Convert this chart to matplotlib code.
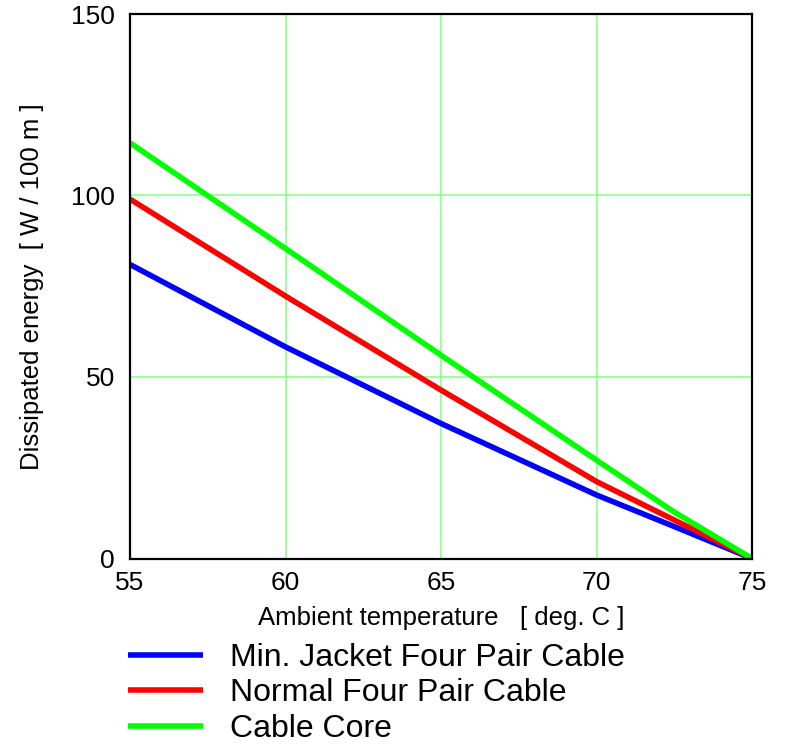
import matplotlib
matplotlib.use("Agg")
import matplotlib.pyplot as plt

temps = [55, 60, 65, 70, 72.5, 75]
min_jacket = [81.0, 58.3, 37.2, 17.5, 8.8, 0.0]
normal_cable = [99.0, 72.3, 46.4, 21.2, 10.6, 0.0]
cable_core = [114.5, 85.4, 56.0, 27.1, 12.8, 0.0]
series_labels = ["Min. Jacket Four Pair Cable", "Normal Four Pair Cable", "Cable Core"]
series_colors = ["#0000ff", "#ff0000", "#00ff00"]
x_ticks = [55, 60, 65, 70, 75]
y_ticks = [0, 50, 100, 150]

plt.rcParams['font.family'] = ['Liberation Sans', 'DejaVu Sans']

W, H = 789, 745
fig = plt.figure(figsize=(W / 100, H / 100), dpi=100)
ax = fig.add_axes([130 / W, 1 - 558.5 / H, (752 - 130) / W, (558.5 - 14) / H])

for ys, lab, col in zip([min_jacket, normal_cable, cable_core], series_labels, series_colors):
    ax.plot(temps, ys, color=col, lw=4.0, label=lab, solid_capstyle='butt')

ax.set_xlim(55, 75)
ax.set_ylim(0, 150)
ax.set_xticks(x_ticks)
ax.set_yticks(y_ticks)
ax.grid(True, color="#80ff80", lw=1.1)
ax.set_axisbelow(True)
ax.tick_params(length=0, labelsize=19, pad=9)
ax.tick_params(axis='y', pad=11)
for s in ax.spines.values():
    s.set_linewidth(1.6)
    s.set_color("black")

ax.set_xlabel("Ambient temperature   [ deg. C ]", fontsize=18.5, labelpad=8)
ax.set_ylabel("Dissipated energy  [ W / 100 m ]", fontsize=18.5, labelpad=19)

handles, labels = ax.get_legend_handles_labels()
leg = fig.legend(handles, labels, loc='upper left', bbox_to_anchor=(128 / W, 1 - 643 / H),
                 frameon=False, fontsize=23, handlelength=2.35, handletextpad=0.85,
                 labelspacing=0.17, borderpad=0, borderaxespad=0)

fig.savefig("out.png", dpi=100)
